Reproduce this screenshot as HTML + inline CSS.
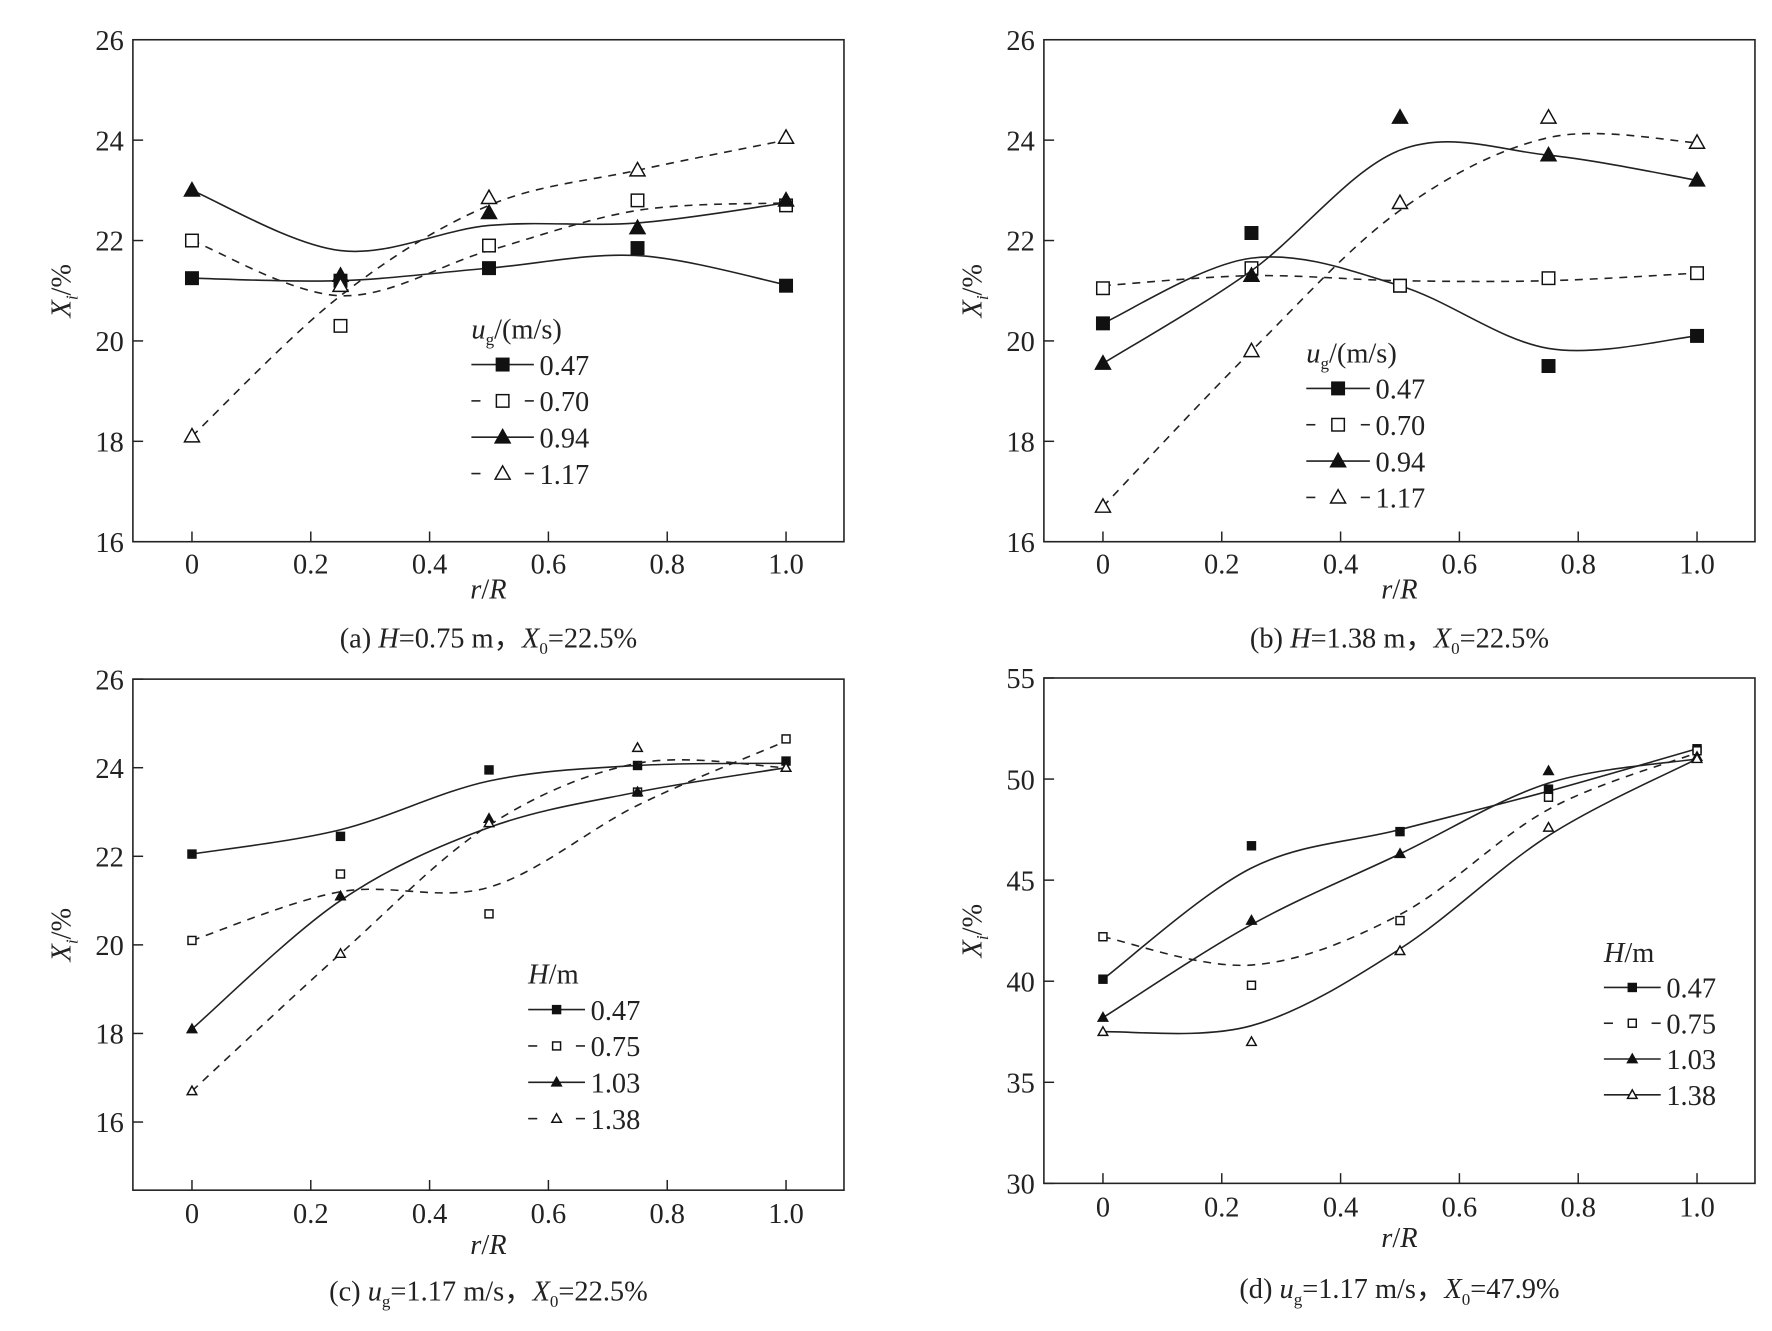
<!DOCTYPE html>
<html><head><meta charset="utf-8">
<style>
html,body{margin:0;padding:0;background:#fff;}
svg{display:block;font-family:"Liberation Serif",serif;}
</style></head>
<body>
<svg id="fig" width="1772" height="1331" viewBox="0 0 1560 1172" preserveAspectRatio="none" xmlns="http://www.w3.org/2000/svg"></svg>
<script>
// ---- data ----
const xCats = [0, 0.25, 0.5, 0.75, 1.0];
const xTicks = [0, 0.2, 0.4, 0.6, 0.8, 1.0];
const xTickLabels = ["0", "0.2", "0.4", "0.6", "0.8", "1.0"];
const yTicksA = [16, 18, 20, 22, 24, 26];
const yTicksD = [30, 35, 40, 45, 50, 55];
const legendA = ["0.47", "0.70", "0.94", "1.17"];
const legendC = ["0.47", "0.75", "1.03", "1.38"];

const aPts047 = [21.25, 21.2, 21.45, 21.85, 21.1];
const aPts070 = [22.0, 20.3, 21.9, 22.8, 22.7];
const aPts094 = [23.0, 21.3, 22.55, 22.25, 22.8];
const aPts117 = [18.1, 21.1, 22.85, 23.4, 24.05];
const aFit047 = [21.25, 21.2, 21.45, 21.7, 21.12];
const aFit070 = [22.0, 20.9, 21.8, 22.6, 22.75];
const aFit094 = [23.0, 21.8, 22.3, 22.35, 22.75];
const aFit117 = [18.1, 20.9, 22.7, 23.4, 24.0];

const bPts047 = [20.35, 22.15, 21.1, 19.5, 20.1];
const bPts070 = [21.05, 21.45, 21.1, 21.25, 21.35];
const bPts094 = [19.55, 21.3, 24.45, 23.7, 23.2];
const bPts117 = [16.7, 19.8, 22.75, 24.45, 23.95];
const bFit047 = [20.35, 21.65, 21.1, 19.85, 20.1];
const bFit070 = [21.1, 21.3, 21.2, 21.2, 21.35];
const bFit094 = [19.55, 21.4, 23.8, 23.7, 23.2];
const bFit117 = [16.7, 19.8, 22.6, 24.05, 23.95];

const cPts047 = [22.05, 22.45, 23.95, 24.05, 24.15];
const cPts075 = [20.1, 21.6, 20.7, 23.45, 24.65];
const cPts103 = [18.1, 21.1, 22.85, 23.45, 24.0];
const cPts138 = [16.7, 19.8, 22.75, 24.45, 24.0];
const cFit047 = [22.05, 22.6, 23.7, 24.05, 24.1];
const cFit075 = [20.1, 21.2, 21.3, 23.15, 24.6];
const cFit103 = [18.1, 21.0, 22.65, 23.45, 24.0];
const cFit138 = [16.7, 19.8, 22.7, 24.1, 24.0];

const dPts047 = [40.1, 46.7, 47.4, 49.5, 51.5];
const dPts075 = [42.2, 39.8, 43.0, 49.1, 51.4];
const dPts103 = [38.2, 43.0, 46.3, 50.4, 51.1];
const dPts138 = [37.5, 37.0, 41.5, 47.6, 51.0];
const dFit047 = [40.1, 45.6, 47.5, 49.4, 51.5];
const dFit075 = [42.2, 40.8, 43.3, 48.5, 51.3];
const dFit103 = [38.2, 42.8, 46.3, 49.8, 51.0];
const dFit138 = [37.5, 37.8, 41.6, 47.2, 51.0];

// ---- drawing ----
const NS = "http://www.w3.org/2000/svg";
const svg = document.getElementById("fig");
const FS = 25;
function mk(tag, attrs, parent) {
  const e = document.createElementNS(NS, tag);
  for (const k in attrs) e.setAttribute(k, attrs[k]);
  (parent || svg).appendChild(e);
  return e;
}
function spline(pts) {
  let d = "M" + pts[0][0] + "," + pts[0][1];
  for (let i = 0; i < pts.length - 1; i++) {
    const p0 = pts[i - 1] || pts[i], p1 = pts[i], p2 = pts[i + 1], p3 = pts[i + 2] || p2;
    const c1x = p1[0] + (p2[0] - p0[0]) / 6, c1y = p1[1] + (p2[1] - p0[1]) / 6;
    const c2x = p2[0] - (p3[0] - p1[0]) / 6, c2y = p2[1] - (p3[1] - p1[1]) / 6;
    d += " C" + c1x + "," + c1y + " " + c2x + "," + c2y + " " + p2[0] + "," + p2[1];
  }
  return d;
}
function marker(g, type, cx, cy, s) {
  const filled = type === "fs" || type === "ft";
  const fill = filled ? "#111" : "#fff";
  let m;
  if (type === "fs" || type === "os") {
    m = mk("rect", {x: cx - s / 2, y: cy - s / 2, width: s, height: s, fill: fill, stroke: "#111", "stroke-width": 1.3}, g);
  } else {
    const h = s * 1.0;
    m = mk("polygon", {points: (cx) + "," + (cy - h * 0.62) + " " + (cx - s * 0.6) + "," + (cy + h * 0.45) + " " + (cx + s * 0.6) + "," + (cy + h * 0.45), fill: fill, stroke: "#111", "stroke-width": 1.3}, g);
  }
  return m;
}

function panel(cfg) {
  const g = mk("g", {});
  
  
  const L = cfg.box[0], T = cfg.box[1], R = cfg.box[2], B = cfg.box[3];
  const X = v => cfg.x0 + v * (cfg.x1 - cfg.x0);
  const Y = v => cfg.yTop + (cfg.yMaxTick - v) / (cfg.yMaxTick - cfg.yMinTick) * (cfg.yBot - cfg.yTop);
  const frame = mk("rect", {x: L, y: T, width: R - L, height: B - T, fill: "none", stroke: "#222", "stroke-width": 1.4}, g);
  
  
  xTicks.forEach((t, i) => {
    const x = X(t);
    const tk = mk("line", {x1: x, y1: B, x2: x, y2: B - 9, stroke: "#222", "stroke-width": 1.3}, g);
    
    
    const tl = mk("text", {x: x, y: cfg.xLabY, "font-size": FS, "text-anchor": "middle", fill: "#222"}, g);
    tl.textContent = xTickLabels[i];
    
    
  });
  cfg.yTicks.forEach(t => {
    const y = Y(t);
    const tk = mk("line", {x1: L, y1: y, x2: L + 9, y2: y, stroke: "#222", "stroke-width": 1.3}, g);
    
    
    const tl = mk("text", {x: L - 8, y: y + 9, "font-size": FS, "text-anchor": "end", fill: "#222"}, g);
    tl.textContent = String(t);
    
    
  });
  const xt = mk("text", {x: (L + R) / 2, y: cfg.xTitleY, "font-size": FS, "text-anchor": "middle", "font-style": "italic", fill: "#222"}, g);
  xt.innerHTML = 'r<tspan font-style="normal">/</tspan>R';
  
  
  const yc = (T + B) / 2;
  const yt = mk("text", {x: 0, y: 0, "font-size": FS, "text-anchor": "middle", fill: "#222", transform: "translate(" + (L - 55) + "," + yc + ") rotate(-90)"}, g);
  yt.innerHTML = '<tspan font-style="italic">X</tspan><tspan font-style="italic" font-size="15" dy="6">i</tspan><tspan dy="-6">/%</tspan>';
  
  
  const cap = mk("text", {x: cfg.capX, y: cfg.capY, "font-size": FS, "text-anchor": "middle", fill: "#222"}, g);
  cap.innerHTML = cfg.caption;
  
  
  cfg.series.forEach((s, si) => {
    const sg = mk("g", {}, g);
    
    
    const pts = xCats.map((c, i) => [X(c), Y(s.fit[i])]);
    const p = mk("path", {d: spline(pts), fill: "none", stroke: "#222", "stroke-width": 1.4, "stroke-dasharray": s.dash ? "7,6" : "none"}, sg);
    
    
    xCats.forEach((c, i) => {
      const m = marker(sg, s.mk, X(c), Y(s.pts[i]), cfg.ms);
      
      
    });
  });
  const lg = mk("g", {}, g);
  
  
  const lt = mk("text", {x: cfg.lx, y: cfg.ly + 9, "font-size": FS, fill: "#222"}, lg);
  lt.innerHTML = cfg.legTitle;
  
  
  cfg.series.forEach((s, i) => {
    const y = cfg.ly + cfg.ldy * (i + 1);
    const eg = mk("g", {}, lg);
    
    
    const mx = cfg.lx + cfg.lw / 2;
    if (s.dash) {
      mk("line", {x1: cfg.lx, y1: y, x2: cfg.lx + 8, y2: y, stroke: "#222", "stroke-width": 1.4}, eg);
      mk("line", {x1: cfg.lx + cfg.lw - 8, y1: y, x2: cfg.lx + cfg.lw, y2: y, stroke: "#222", "stroke-width": 1.4}, eg);
    } else {
      mk("line", {x1: cfg.lx, y1: y, x2: cfg.lx + cfg.lw, y2: y, stroke: "#222", "stroke-width": 1.4}, eg);
    }
    marker(eg, s.mk, mx, y, cfg.ms);
    const tx = mk("text", {x: cfg.lx + cfg.lw + 5, y: y + 9, "font-size": FS, fill: "#222"}, eg);
    tx.textContent = cfg.legend[i];
  });
}

const ugTitle = '<tspan font-style="italic">u</tspan><tspan font-size="15" dy="6">g</tspan><tspan dy="-6">/(m/s)</tspan>';
const hTitle = '<tspan font-style="italic">H</tspan>/m';

panel({name: "panel-a", box: [117, 35, 743, 477], x0: 169, x1: 692, yTop: 35, yBot: 477, yMaxTick: 26, yMinTick: 16, yTicks: yTicksA,
  xLabY: 505, xTitleY: 527, capX: 430, capY: 570, ms: 11,
  caption: '(a) <tspan font-style="italic">H</tspan>=0.75 m，<tspan font-style="italic">X</tspan><tspan font-size="15" dy="6">0</tspan><tspan dy="-6">=22.5%</tspan>',
  legend: legendA, legTitle: ugTitle, lx: 415, ly: 289, ldy: 32, lw: 55,
  series: [{pts: aPts047, fit: aFit047, mk: "fs", dash: false}, {pts: aPts070, fit: aFit070, mk: "os", dash: true},
           {pts: aPts094, fit: aFit094, mk: "ft", dash: false}, {pts: aPts117, fit: aFit117, mk: "ot", dash: true}]});

panel({name: "panel-b", box: [919, 35, 1545, 477], x0: 971, x1: 1494, yTop: 35, yBot: 477, yMaxTick: 26, yMinTick: 16, yTicks: yTicksA,
  xLabY: 505, xTitleY: 527, capX: 1232, capY: 570, ms: 11,
  caption: '(b) <tspan font-style="italic">H</tspan>=1.38 m，<tspan font-style="italic">X</tspan><tspan font-size="15" dy="6">0</tspan><tspan dy="-6">=22.5%</tspan>',
  legend: legendA, legTitle: ugTitle, lx: 1150, ly: 310, ldy: 32, lw: 56,
  series: [{pts: bPts047, fit: bFit047, mk: "fs", dash: false}, {pts: bPts070, fit: bFit070, mk: "os", dash: true},
           {pts: bPts094, fit: bFit094, mk: "ft", dash: false}, {pts: bPts117, fit: bFit117, mk: "ot", dash: true}]});

panel({name: "panel-c", box: [117, 598, 743, 1048], x0: 169, x1: 692, yTop: 598, yBot: 988, yMaxTick: 26, yMinTick: 16, yTicks: yTicksA,
  xLabY: 1077, xTitleY: 1104, capX: 430, capY: 1145, ms: 7,
  caption: '(c) <tspan font-style="italic">u</tspan><tspan font-size="15" dy="6">g</tspan><tspan dy="-6">=1.17 m/s，</tspan><tspan font-style="italic">X</tspan><tspan font-size="15" dy="6">0</tspan><tspan dy="-6">=22.5%</tspan>',
  legend: legendC, legTitle: hTitle, lx: 465, ly: 857, ldy: 32, lw: 50,
  series: [{pts: cPts047, fit: cFit047, mk: "fs", dash: false}, {pts: cPts075, fit: cFit075, mk: "os", dash: true},
           {pts: cPts103, fit: cFit103, mk: "ft", dash: false}, {pts: cPts138, fit: cFit138, mk: "ot", dash: true}]});

panel({name: "panel-d", box: [919, 597, 1545, 1042], x0: 971, x1: 1494, yTop: 597, yBot: 1042, yMaxTick: 55, yMinTick: 30, yTicks: yTicksD,
  xLabY: 1071, xTitleY: 1098, capX: 1232, capY: 1143, ms: 7,
  caption: '(d) <tspan font-style="italic">u</tspan><tspan font-size="15" dy="6">g</tspan><tspan dy="-6">=1.17 m/s，</tspan><tspan font-style="italic">X</tspan><tspan font-size="15" dy="6">0</tspan><tspan dy="-6">=47.9%</tspan>',
  legend: legendC, legTitle: hTitle, lx: 1412, ly: 838, ldy: 31.5, lw: 50,
  series: [{pts: dPts047, fit: dFit047, mk: "fs", dash: false}, {pts: dPts075, fit: dFit075, mk: "os", dash: true},
           {pts: dPts103, fit: dFit103, mk: "ft", dash: false}, {pts: dPts138, fit: dFit138, mk: "ot", dash: false}]});
</script>
</body></html>
